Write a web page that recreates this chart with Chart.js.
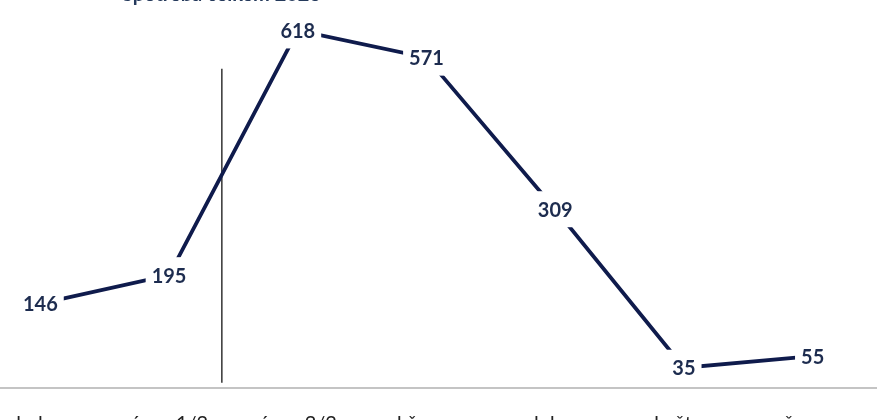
<!DOCTYPE html>
<html>
<head>
<meta charset="utf-8">
<script src="https://cdn.jsdelivr.net/npm/chart.js@4.4.1/dist/chart.umd.min.js"></script>
<style>
  html, body { margin: 0; padding: 0; width: 877px; height: 420px; overflow: hidden; background: #ffffff; }
  #wrap { position: absolute; left: -24px; top: -60px; width: 901px; height: 530px; }
</style>
</head>
<body>
<div id="wrap"><canvas id="c"></canvas></div>
<script>
// ---- data ----
const categories = ["leden", "únor 1/2", "únor 2/2", "březen", "duben", "květen", "červen"];
const values = [146, 195, 618, 571, 309, 35, 55];
const chartTitle = "Spotřeba celkem 2023";

const LINE_COLOR = "#0f1b4c";
const LABEL_COLOR = "#1d2c4f";

const labelPlugin = {
  id: "pointLabels",
  afterDatasetsDraw(chart) {
    const ctx = chart.ctx;
    const meta = chart.getDatasetMeta(0);
    ctx.save();
    ctx.font = "bold 20px Lato";
    ctx.textAlign = "center";
    ctx.textBaseline = "middle";
    meta.data.forEach((pt, i) => {
      const txt = String(chart.data.datasets[0].data[i]);
      const w = ctx.measureText(txt).width + 12;
      const h = 36;
      ctx.fillStyle = "#ffffff";
      ctx.fillRect(pt.x - w / 2, pt.y - h / 2, w, h);
      ctx.fillStyle = LABEL_COLOR;
      ctx.fillText(txt, pt.x, pt.y + 1);
    });
    ctx.restore();
  }
};

const markerPlugin = {
  id: "marker",
  beforeDatasetsDraw(chart) {
    const ctx = chart.ctx;
    const x = chart.scales.x.getPixelForValue(1.41);
    const y1 = chart.scales.y.getPixelForValue(552);
    const y2 = chart.scales.y.getPixelForValue(9);
    ctx.save();
    ctx.strokeStyle = "#333333";
    ctx.lineWidth = 1.5;
    ctx.beginPath();
    ctx.moveTo(x, y1);
    ctx.lineTo(x, y2);
    ctx.stroke();
    ctx.restore();
  }
};

const titlePlugin = {
  id: "topTitle",
  afterDraw(chart) {
    const ctx = chart.ctx;
    ctx.save();
    ctx.font = "bold 20px Lato";
    ctx.fillStyle = "#253a5c";
    ctx.textAlign = "left";
    ctx.textBaseline = "alphabetic";
    ctx.fillText(chartTitle, 146, 61);
    ctx.restore();
  }
};

new Chart(document.getElementById("c"), {
  type: "line",
  data: {
    labels: categories,
    datasets: [{
      data: values,
      borderColor: LINE_COLOR,
      borderWidth: 3.8,
      pointRadius: 0,
      tension: 0,
      fill: false,
      clip: false
    }]
  },
  options: {
    responsive: true,
    maintainAspectRatio: false,
    animation: false,
    layout: { padding: { top: 43, bottom: 10, left: 0, right: 0 } },
    plugins: { legend: { display: false }, tooltip: { enabled: false }, title: { display: false } },
    scales: {
      x: {
        offset: true,
        grid: { display: false, drawTicks: false },
        border: { display: true, color: "#c4c4c4", width: 2 },
        ticks: { font: { family: "Lato", size: 20 }, color: "#222222", padding: 24, maxRotation: 0, autoSkip: false }
      },
      y: { display: false, min: 0, max: 700 }
    }
  },
  plugins: [markerPlugin, labelPlugin, titlePlugin]
});
</script>
</body>
</html>
